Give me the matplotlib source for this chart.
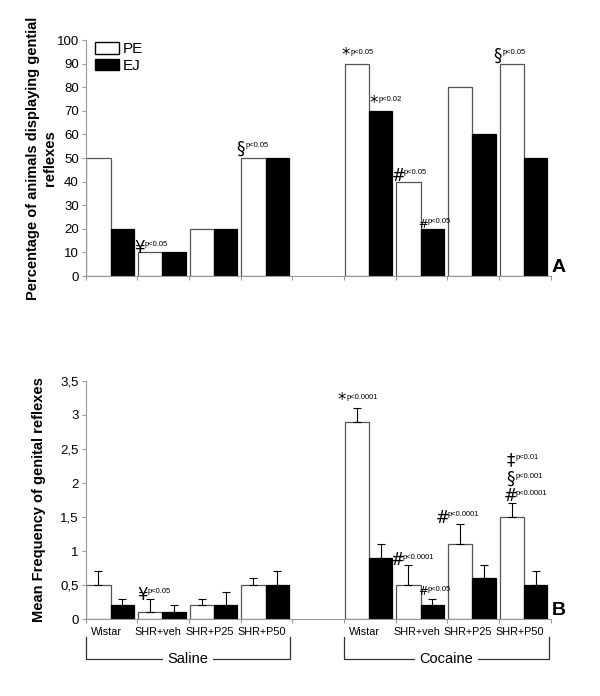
import numpy as np
import matplotlib
matplotlib.use('Agg')
import matplotlib.pyplot as plt
from matplotlib.patches import Patch

plt.rcParams['font.family'] = ['Liberation Sans', 'DejaVu Sans']

# groups (category slot on x axis, slot 4 stays empty)
groups = ['Wistar', 'SHR+veh', 'SHR+P25', 'SHR+P50']
treatments = ['Saline', 'Cocaine']
slots = [0, 1, 2, 3, 5, 6, 7, 8]

# panel A: percentage of animals
pct_pe = [50, 10, 20, 50, 90, 40, 80, 90]
pct_ej = [20, 10, 20, 50, 70, 20, 60, 50]

# panel B: mean frequency and upper error
freq_pe = [0.5, 0.1, 0.2, 0.5, 2.9, 0.5, 1.1, 1.5]
freq_ej = [0.2, 0.1, 0.2, 0.5, 0.9, 0.2, 0.6, 0.5]
err_pe = [0.2, 0.2, 0.1, 0.1, 0.2, 0.3, 0.3, 0.2]
err_ej = [0.1, 0.1, 0.2, 0.2, 0.2, 0.1, 0.2, 0.2]

# significance marks: (x, y, symbol, p text, small symbol?)
marks_a = [
    (1.04, 12.0, '¥', 'p<0.05', False),
    (3.0, 54.0, '§', 'p<0.05', False),
    (5.02, 93.5, '*', 'p<0.05', False),
    (5.57, 73.5, '*', 'p<0.02', False),
    (6.05, 42.5, '#', 'p<0.05', False),
    (6.52, 22.0, '#', 'p<0.05', True),
    (7.97, 93.5, '§', 'p<0.05', False),
]
marks_b = [
    (1.10, 0.36, '¥', 'p<0.05', False),
    (4.95, 3.22, '*', 'p<0.0001', False),
    (6.03, 0.87, '#', 'p<0.0001', False),
    (6.52, 0.40, '#', 'p<0.05', True),
    (6.90, 1.49, '#', 'p<0.0001', False),
    (8.22, 2.33, '‡', 'p<0.01', False),
    (8.22, 2.06, '§', 'p<0.001', False),
    (8.22, 1.81, '#', 'p<0.0001', False),
]

edge = '#555555'
fig = plt.figure(figsize=(6, 6.96), dpi=100)
ax_a = fig.add_axes([0.143, 0.6034, 0.775, 0.339])
ax_b = fig.add_axes([0.143, 0.1106, 0.775, 0.342])

x = np.array(slots, dtype=float)


def style_axis(ax):
    ax.set_xlim(0, 9)
    for s in ['top', 'right']:
        ax.spines[s].set_visible(False)
    for s in ['left', 'bottom']:
        ax.spines[s].set_color('#999999')
        ax.spines[s].set_linewidth(0.8)
    ax.set_xticks(range(10))
    ax.set_xticklabels([])
    ax.tick_params(axis='x', length=3, color='#999999', direction='out')
    ax.tick_params(axis='y', length=3, color='#999999', labelsize=9.5, pad=2)


def marks(ax, items, size_sym, size_p, dy):
    for mx, my, sym, ptxt, small in items:
        fs = size_sym * (0.7 if small else 1.0)
        ax.text(mx, my, sym, ha='center', va='center', fontsize=fs,
                family=['DejaVu Sans'])
        ax.text(mx + 0.1, my + dy, ptxt, ha='left', va='center', fontsize=size_p)


# panel A
ax_a.bar(x + 0.01, pct_pe, width=0.47, align='edge', color='white',
         edgecolor=edge, linewidth=0.9)
ax_a.bar(x + 0.48, pct_ej, width=0.45, align='edge', color='black',
         edgecolor='black', linewidth=0.9)
style_axis(ax_a)
ax_a.set_ylim(0, 100)
ax_a.set_yticks(range(0, 101, 10))
ax_a.set_ylabel('Percentage of animals displaying gential\nreflexes',
                fontsize=10.5, fontweight='bold', labelpad=0, linespacing=1.25)
marks(ax_a, marks_a, 12, 5.5, 1.2)
ax_a.text(9.02, 0, 'A', fontsize=14, fontweight='bold', ha='left', va='bottom')
handles = [Patch(facecolor='white', edgecolor='black', label='PE'),
           Patch(facecolor='black', edgecolor='black', label='EJ')]
ax_a.legend(handles=handles, loc='upper left', bbox_to_anchor=(0.0, 1.03),
            frameon=False, fontsize=11, handlelength=1.6, handleheight=0.8,
            handletextpad=0.2, labelspacing=0.15, borderaxespad=0.2)

# panel B
ax_b.bar(x + 0.01, freq_pe, width=0.47, align='edge', color='white',
         edgecolor=edge, linewidth=0.9)
ax_b.bar(x + 0.48, freq_ej, width=0.45, align='edge', color='black',
         edgecolor='black', linewidth=0.9)
ax_b.errorbar(x + 0.245, freq_pe, yerr=[np.zeros(8), err_pe], fmt='none',
              ecolor='black', elinewidth=0.8, capsize=3, capthick=0.8)
ax_b.errorbar(x + 0.705, freq_ej, yerr=[np.zeros(8), err_ej], fmt='none',
              ecolor='black', elinewidth=0.8, capsize=3, capthick=0.8)
style_axis(ax_b)
ax_b.set_ylim(0, 3.5)
ax_b.set_yticks(np.arange(0, 3.51, 0.5))
ax_b.set_yticklabels(['0', '0,5', '1', '1,5', '2', '2,5', '3', '3,5'])
ax_b.set_ylabel('Mean Frequency of genital reflexes', fontsize=10.5,
                fontweight='bold', labelpad=10)
marks(ax_b, marks_b, 12, 5.5, 0.04)
ax_b.text(9.02, 0, 'B', fontsize=14, fontweight='bold', ha='left', va='bottom')

# group labels and treatment brackets
tr = ax_b.get_xaxis_transform()
for xi, name in zip(x, groups * 2):
    ax_b.text(xi + 0.4, -0.035, name, transform=tr, ha='center', va='top',
              fontsize=7.8)
for k, t in enumerate(treatments):
    left = slots[4 * k]
    right = slots[4 * k + 3] + 0.96
    ax_b.plot([left, left, right, right], [-0.075, -0.168, -0.168, -0.075],
              transform=tr, color='#333333', lw=0.9, clip_on=False)
    ax_b.text((left + right) / 2, -0.168, t, transform=tr, ha='center',
              va='center', fontsize=10.5,
              bbox=dict(facecolor='white', edgecolor='none', pad=3))

fig.savefig('out.png', dpi=100)
